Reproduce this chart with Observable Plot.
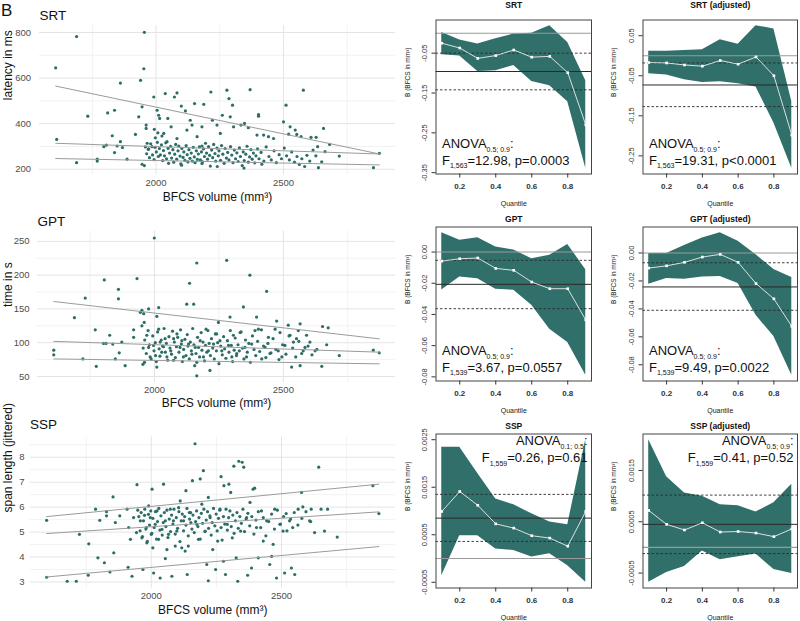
<!DOCTYPE html>
<html><head><meta charset="utf-8">
<script src="https://cdn.jsdelivr.net/npm/d3@7"></script>
<script src="https://cdn.jsdelivr.net/npm/@observablehq/plot@0.6"></script>
<style>
body{margin:0;background:#fff;}
#fig{position:relative;width:800px;height:621px;overflow:hidden;background:#fff;font-family:'Liberation Sans', Arial, Helvetica, sans-serif;}
#fig div.pn{position:absolute;}
#fig svg{background:transparent !important;}
#fig svg text, #fig svg tspan{font-family:'Liberation Sans', Arial, Helvetica, sans-serif;}
</style></head><body><div id="fig"></div>
<script>
// ---------------- DATA ----------------
const volMajor = [2000, 2500];
const volMinor = [1750, 2250, 2750];
const quant = [0.1, 0.2, 0.3, 0.4, 0.5, 0.6, 0.7, 0.8, 0.9];

// SRT scatter: [BFCS volume, latency ms]
const srtPts = [
[1606,645],[1610,331],[1688,782],[1688,229],[1732,433],[1769,244],[1769,236],[1795,299],[1805,306],[1810,447],[1837,459],[1828,347],[1837,273],[1847,302],[1860,578],[1860,321],[1868,295],[1886,244],[1919,353],[1932,430],[1939,590],[1952,641],[1954,801],[1945,474],[1945,222],[1954,216],[1961,394],[1961,379],[1965,314],[1971,289],[1984,299],[1991,517],[1993,375],[1997,338],[2004,459],[2010,437],[2014,423],[2007,360],[2023,346],[2030,357],[2036,532],[2046,423],[2043,321],[2059,386],[2072,517],[2082,535],[2082,335],[2099,477],[2115,456],[2121,372],[2134,415],[2141,394],[2151,488],[2161,343],[2180,386],[2180,302],[2187,485],[2215,539],[2221,415],[2239,394],[2252,357],[2260,437],[2278,547],[2286,510],[2291,430],[2300,481],[2304,386],[2333,394],[2347,401],[2369,549],[2362,382],[2396,350],[2402,440],[2402,433],[2422,350],[2441,343],[2461,335],[2500,408],[2510,481],[2520,354],[2526,386],[2546,372],[2552,353],[2578,547],[2569,343],[2608,340],[2628,340],[2657,379],[2681,309],[2634,299],[2663,277],[2719,258],[2650,233],[2637,207],[2853,207],[2876,270],
[1958,298],[1963,268],[1969,287],[1974,251],[1979,312],[1986,263],[1992,242],[1996,296],[2001,276],[2005,318],[2009,256],[2013,291],[2017,263],[2021,307],[2026,238],[2029,282],[2033,259],[2038,316],[2041,246],[2047,292],[2049,226],[2053,271],[2057,301],[2061,249],[2066,286],[2069,231],[2073,266],[2077,309],[2081,244],[2086,281],[2089,302],[2094,258],[2097,224],[2101,291],[2106,252],[2109,276],[2113,239],[2118,304],[2122,264],[2125,232],[2129,286],[2133,248],[2138,271],[2142,236],[2146,296],[2150,254],[2153,229],[2158,281],[2162,243],[2166,267],[2170,298],[2174,241],[2178,276],[2182,232],[2186,289],[2190,256],[2194,314],[2198,271],[2202,244],[2206,299],[2210,261],[2213,214],[2218,284],[2222,251],[2226,309],[2231,269],[2234,236],[2239,293],[2244,259],[2247,281],[2253,239],[2257,304],[2262,266],[2267,226],[2271,291],[2276,249],[2281,274],[2286,241],[2292,299],[2297,262],[2302,229],[2307,284],[2312,246],[2317,272],[2322,234],[2327,294],[2331,256],[2338,216],[2342,276],[2346,238],[2352,266],[2357,301],[2362,231],[2367,254],[2372,286],[2377,244],[2382,271],[2387,228],[2392,259],[2398,289],[2404,246],[2412,274],[2423,236],[2432,298],[2443,256],[2452,241],[2463,281],[2472,229],[2483,264],[2492,246],[2503,293],[2512,259],[2523,241],[2532,276],[2543,231],[2553,256],[2562,221],[2572,246],[2583,212],[2592,261],[2603,236],[2616,284],[2627,259],[2345,205],[2415,222],[2240,212],[2100,218],[2180,225]
];
// fitted quantile lines (value at min and max volume)
const srtLines = [
  {q: 0.1, x: [1606, 2876], y: [247, 219]},
  {q: 0.5, x: [1606, 2876], y: [314, 267]},
  {q: 0.9, x: [1606, 2876], y: [565, 267]}
];
const srtYMajor = [200, 400, 600, 800];
const srtYMinor = [300, 500, 700];

// GPT scatter: [BFCS volume, time s]
const gptPts = [
[1609,89],[1609,82],[1689,137],[1731,166],[1722,76],[1770,119],[1774,65],[1802,99],[1805,193],[1812,99],[1826,111],[1838,98],[1848,76],[1860,179],[1860,165],[1863,85],[1873,101],[1886,66],[1919,119],[1919,108],[1932,195],[1945,145],[1951,125],[1958,143],[1951,148],[1960,130],[1970,111],[1977,150],[1955,68],[1961,71],[1977,93],[1983,79],[1999,255],[1996,96],[2004,81],[2009,139],[2016,152],[2016,120],[2022,101],[2028,86],[2035,94],[2009,64],[2041,106],[2048,79],[2063,88],[2074,106],[2074,74],[2087,113],[2099,93],[2106,103],[2112,79],[2125,157],[2136,188],[2132,98],[2145,83],[2152,157],[2158,93],[2164,218],[2164,71],[2164,51],[2177,103],[2190,79],[2200,120],[2209,88],[2215,59],[2229,98],[2241,113],[2248,130],[2254,103],[2261,88],[2280,222],[2287,96],[2293,138],[2300,79],[2306,111],[2319,84],[2332,115],[2345,153],[2351,93],[2357,79],[2370,200],[2377,98],[2390,118],[2396,138],[2403,120],[2416,76],[2429,93],[2435,176],[2442,108],[2448,84],[2468,120],[2474,132],[2480,88],[2487,115],[2494,79],[2506,96],[2519,126],[2526,111],[2532,64],[2539,101],[2551,106],[2558,118],[2565,128],[2571,84],[2565,66],[2584,93],[2590,111],[2603,101],[2623,88],[2652,124],[2649,65],[2674,122],[2668,97],[2717,81],[2849,89],[2872,85],
[1956,92],[1962,104],[1968,84],[1975,118],[1980,97],[1987,76],[1993,110],[1998,88],[2003,100],[2007,72],[2012,116],[2018,91],[2021,80],[2026,104],[2031,95],[2037,121],[2042,86],[2046,99],[2051,74],[2056,109],[2060,92],[2066,83],[2070,117],[2077,101],[2081,78],[2085,94],[2090,108],[2095,86],[2101,119],[2104,98],[2108,72],[2113,90],[2118,105],[2122,81],[2127,112],[2130,95],[2135,76],[2139,101],[2143,88],[2148,121],[2153,97],[2156,66],[2161,84],[2167,108],[2171,93],[2175,79],[2181,115],[2184,89],[2188,101],[2194,73],[2198,96],[2203,86],[2207,118],[2212,99],[2217,81],[2221,106],[2226,92],[2232,76],[2236,113],[2240,88],[2245,100],[2250,69],[2257,95],[2263,82],[2268,109],[2272,91],[2277,77],[2283,103],[2289,86],[2294,118],[2298,96],[2303,72],[2309,89],[2313,107],[2318,81],[2324,97],[2329,88],[2336,116],[2341,92],[2347,76],[2353,104],[2360,86],[2366,99],[2372,71],[2380,110],[2386,90],[2393,81],[2400,102],[2408,87],[2415,119],[2423,95],[2432,78],[2440,99],[2452,85],[2460,106],[2471,90],[2483,75],[2497,97],[2510,83],[2522,110],[2536,92],[2548,79],[2560,102],[2577,88],[2596,95],[2611,82],[2630,90]
];
const gptLines = [
  {q: 0.1, x: [1609, 2872], y: [76, 68.7]},
  {q: 0.5, x: [1609, 2872], y: [102, 86]},
  {q: 0.9, x: [1609, 2872], y: [161, 105.7]}
];
const gptYMajor = [50, 100, 150, 200, 250];
const gptYMinor = [75, 125, 175, 225];

// SSP scatter: [BFCS volume, span length (jittered)]
const sspPts = [
[1598,5.47],[1598,3.19],[1677,3.03],[1712,3.03],[1724,4.91],[1760,4.53],[1758,3.27],[1786,5.92],[1795,3.97],[1802,5.47],[1820,3.77],[1828,5.82],[1828,5.65],[1841,3.40],[1853,6.41],[1856,4.17],[1862,5.38],[1879,5.65],[1907,5.92],[1913,5.18],[1911,3.59],[1920,4.71],[1926,3.23],[1932,5.58],[1945,6.90],[1943,4.98],[1948,5.88],[1958,5.45],[1964,4.77],[1968,3.50],[1974,5.67],[1981,5.18],[1983,4.57],[1990,6.05],[1996,5.58],[2000,4.91],[2003,6.72],[2006,4.37],[2009,3.36],[2015,5.31],[2022,5.85],[2028,4.71],[2034,3.16],[2041,5.11],[2047,6.92],[2054,5.45],[2054,3.94],[2060,4.30],[2066,4.91],[2073,5.92],[2079,3.23],[2085,5.45],[2092,4.44],[2098,5.04],[2105,5.98],[2111,6.25],[2117,4.37],[2124,5.45],[2130,4.24],[2133,6.66],[2138,3.30],[2142,4.44],[2146,5.78],[2152,5.38],[2158,7.06],[2168,8.54],[2175,5.31],[2181,4.71],[2188,7.13],[2194,6.12],[2200,7.46],[2207,5.04],[2213,3.70],[2219,6.39],[2219,3.05],[2226,5.58],[2236,4.30],[2247,3.50],[2255,4.64],[2264,5.92],[2268,7.22],[2277,3.83],[2279,6.86],[2285,3.30],[2292,5.31],[2298,6.92],[2305,6.59],[2311,4.77],[2317,7.64],[2326,3.97],[2332,3.03],[2336,7.84],[2343,5.04],[2349,7.80],[2355,7.60],[2366,5.58],[2370,3.27],[2379,6.19],[2385,3.56],[2391,6.72],[2397,6.76],[2404,5.18],[2411,3.97],[2423,5.85],[2430,4.64],[2443,5.45],[2455,3.70],[2462,4.03],[2468,4.51],[2474,5.92],[2481,3.16],[2494,5.31],[2506,5.04],[2512,3.36],[2518,5.74],[2531,5.45],[2538,3.56],[2543,5.18],[2551,3.30],[2564,5.92],[2577,6.59],[2582,6.01],[2608,5.45],[2614,5.92],[2627,4.98],[2643,7.60],[2652,5.92],[2665,5.04],[2677,5.92],[2714,4.80],[2851,6.86],[2874,5.74],
[1952,5.62],[1957,5.05],[1961,5.78],[1966,4.82],[1970,5.45],[1975,5.92],[1979,5.12],[1985,4.63],[1989,5.71],[1993,5.28],[1998,5.85],[2002,4.95],[2006,5.55],[2011,5.18],[2016,5.82],[2020,4.72],[2024,5.42],[2029,5.95],[2033,5.08],[2037,5.65],[2042,4.88],[2046,5.38],[2050,5.78],[2056,5.22],[2060,5.88],[2064,4.78],[2069,5.52],[2074,5.02],[2078,5.68],[2083,5.32],[2087,5.92],[2092,4.92],[2096,5.58],[2101,5.15],[2106,5.82],[2110,4.62],[2115,5.45],[2119,5.72],[2124,5.05],[2128,5.62],[2133,5.28],[2137,5.95],[2142,4.85],[2147,5.52],[2151,5.78],[2156,5.12],[2160,5.68],[2165,4.98],[2170,5.42],[2174,5.85],[2179,5.22],[2183,5.58],[2188,4.72],[2192,5.75],[2197,5.35],[2202,5.92],[2206,5.02],[2211,5.48],[2216,5.82],[2220,5.15],[2225,5.65],[2230,4.88],[2234,5.38],[2239,5.95],[2244,5.25],[2249,5.72],[2253,5.05],[2258,5.55],[2263,5.88],[2268,5.18],[2272,4.68],[2277,5.62],[2282,5.32],[2287,5.92],[2292,5.08],[2297,5.58],[2302,5.85],[2307,5.22],[2313,5.68],[2318,4.95],[2323,5.45],[2329,5.78],[2334,5.15],[2340,5.62],[2346,5.35],[2352,5.92],[2358,5.02],[2364,5.52],[2371,5.75],[2378,5.25],[2386,5.62],[2394,4.92],[2402,5.48],[2411,5.82],[2420,5.18],[2430,5.58],[2440,4.85],[2451,5.42],[2462,5.72],[2473,5.12],[2484,5.88],[2496,5.32],[2508,5.62],[2521,5.05],[2535,5.52],[2549,5.78],[2563,5.28],[2578,5.55],[2594,5.82],[2612,5.42]
];
const sspLines = [
  {q: 0.1, x: [1598, 2874], y: [3.20, 4.42]},
  {q: 0.5, x: [1598, 2874], y: [4.94, 5.81]},
  {q: 0.9, x: [1598, 2874], y: [5.62, 6.92]}
];
const sspYMajor = [3, 4, 5, 6, 7, 8];
const sspYMinor = [3.5, 4.5, 5.5, 6.5, 7.5, 8.5];

// Quantile regression coefficients (B) with confidence band, and OLS [estimate, upper, lower]
const srtB   = [-0.025,-0.037,-0.063,-0.056,-0.042,-0.060,-0.058,-0.099,-0.230];
const srtHi  = [0.002,-0.017,-0.027,-0.014,-0.002,0.000,0.019,-0.023,-0.119];
const srtLo  = [-0.054,-0.057,-0.096,-0.094,-0.081,-0.121,-0.132,-0.172,-0.339];
const srtOls = [-0.096,-0.050,-0.142];

const srtAdjB   = [-0.017,-0.018,-0.023,-0.026,-0.012,-0.021,-0.003,-0.050,-0.198];
const srtAdjHi  = [0.011,0.011,0.013,0.015,0.040,0.029,0.075,0.067,-0.114];
const srtAdjLo  = [-0.045,-0.048,-0.060,-0.067,-0.065,-0.070,-0.078,-0.168,-0.281];
const srtAdjOls = [-0.073,-0.018,-0.127];

const gptB   = [-0.0058,-0.0043,-0.0038,-0.0105,-0.0117,-0.0192,-0.0235,-0.0235,-0.0435];
const gptHi  = [0.0124,0.0075,0.0092,0.0032,0.0013,-0.0043,-0.0021,0.0049,-0.0113];
const gptLo  = [-0.0243,-0.0160,-0.0171,-0.0239,-0.0245,-0.0341,-0.0495,-0.0580,-0.0790];
const gptOls = [-0.0207,-0.0053,-0.0363];

const gptAdjB   = [-0.0108,-0.0092,-0.0067,-0.0029,-0.0010,-0.0067,-0.0219,-0.0328,-0.0525];
const gptAdjHi  = [-0.0003,-0.0003,0.0053,0.0108,0.0145,0.0084,-0.0012,-0.0118,-0.0176];
const gptAdjLo  = [-0.0224,-0.0183,-0.0188,-0.0171,-0.0169,-0.0219,-0.0446,-0.0598,-0.0875];
const gptAdjOls = [-0.0243,-0.0070,-0.0410];

const sspB   = [0.00099,0.00141,0.00112,0.00073,0.00064,0.00048,0.00043,0.00026,0.00099];
const sspHi  = [0.00234,0.00234,0.00179,0.00125,0.00113,0.00094,0.00077,0.00071,0.00250];
const sspLo  = [-0.00036,0.00048,0.00048,0.00020,0.00017,0.00003,0.00010,-0.00015,-0.00050];
const sspOls = [0.00085,0.00135,0.00036];

const sspAdjB   = [0.00072,0.00045,0.00034,0.00048,0.00030,0.00031,0.00028,0.00021,0.00036];
const sspAdjHi  = [0.00210,0.00138,0.00106,0.00100,0.00083,0.00081,0.00069,0.00087,0.00123];
const sspAdjLo  = [-0.00068,-0.00049,-0.00037,-0.00007,-0.00024,-0.00018,-0.00013,-0.00043,-0.00051];
const sspAdjOls = [0.00045,0.00102,-0.00012];

// tick values and labels for coefficient panels
const srtTicks = [-0.35,-0.25,-0.15,-0.05];            const srtTickLab = ["-0.35","-0.25","-0.15","-0.05"];
const srtAdjTicks = [-0.25,-0.15,-0.05,0.05];          const srtAdjTickLab = ["-0.25","-0.15","-0.05","0.05"];
const gptTicks = [-0.08,-0.06,-0.04,-0.02,0];          const gptTickLab = ["-0.08","-0.06","-0.04","-0.02","0.00"];
const sspTicks = [-0.0005,0.0005,0.0015,0.0025];       const sspTickLab = ["-0.0005","0.0005","0.0015","0.0025"];
const sspAdjTicks = [-0.0005,0.0005,0.0015];           const sspAdjTickLab = ["-0.0005","0.0005","0.0015"];
const qTicks = [0.2, 0.4, 0.6, 0.8];

// ---------------- DRAWING ----------------
const FONT = "'Liberation Sans', Arial, Helvetica, sans-serif";
const SVGSTYLE = `font-family: ${FONT}; background: transparent; overflow: visible;`;
const DOT = "#2b6e68";
const RIB = "#316f6a";
const fig = document.getElementById("fig");

function place(node, left, top, w, h) {
  const d = document.createElement("div");
  d.className = "pn";
  d.style.left = left + "px"; d.style.top = top + "px";
  d.style.width = w + "px"; d.style.height = h + "px";
  d.appendChild(node); fig.appendChild(d);
}
function pad(ext, f) { const r = ext[1] - ext[0]; return [ext[0] - r * f, ext[1] + r * f]; }

function applySub(svg, subSize, shift) {
  d3.select(svg).selectAll("text").each(function () {
    const s = this.textContent;
    if (!s.includes("_{")) return;
    const parts = s.split(/(_\{[^}]*\})/).filter(p => p.length);
    const el = d3.select(this);
    el.text(null);
    let down = false;
    for (const p of parts) {
      if (p.startsWith("_{")) {
        el.append("tspan").attr("font-size", subSize).attr("dy", shift).text(p.slice(2, -1));
        down = true;
      } else {
        const t = el.append("tspan").text(p);
        if (down) { t.attr("dy", -shift); down = false; }
      }
    }
  });
}

function scatterPanel(o) {
  const xd = pad(d3.extent(o.pts, d => d[0]), 0.05);
  const yd = pad(d3.extent(o.pts, d => d[1]), 0.05);
  const lineRows = o.lines.flatMap(l => l.x.map((x, i) => ({q: l.q, x, y: l.y[i]})));
  const marks = [
    Plot.ruleX(volMinor, {stroke: "#efefef", strokeWidth: 0.8}),
    Plot.ruleY(o.yMinor, {stroke: "#efefef", strokeWidth: 0.8}),
    Plot.ruleX(volMajor, {stroke: "#e4e4e4", strokeWidth: 1}),
    Plot.ruleY(o.yMajor, {stroke: "#e4e4e4", strokeWidth: 1}),
    Plot.dot(o.pts, {x: d => d[0], y: d => d[1], r: 1.6, fill: DOT, stroke: null}),
    Plot.line(lineRows, {x: "x", y: "y", z: "q", stroke: "#9b9b9b", strokeWidth: 1}),
    Plot.axisX({ticks: volMajor, tickSize: 0, tickPadding: o.xPad, fontSize: 9.5, tickFormat: d => String(d), label: null, color: "#4d4d4d"}),
    Plot.axisY({ticks: o.yMajor, tickSize: 0, tickPadding: o.yPad, fontSize: 9.5, tickFormat: d => String(d), label: null, color: "#4d4d4d"}),
    Plot.text(["BFCS volume (mm³)"], {frameAnchor: "bottom", dy: o.xLabOff, lineAnchor: "bottom", fontSize: 12, fill: "#111"}),
    Plot.text([o.yLabel], {frameAnchor: "left", dx: 3 - o.mLeft, rotate: -90, lineAnchor: "top", fontSize: 12, fill: "#111"}),
    Plot.text([o.title], {frameAnchor: "top-left", dy: o.titleDy, textAnchor: "start", lineAnchor: "bottom", fontSize: 13.5, fill: "#111"})
  ];
  if (o.letter) marks.push(Plot.text([o.letter], {frameAnchor: "top-left", dx: 0.5 - o.mLeft, dy: 15 - o.mTop, textAnchor: "start", lineAnchor: "bottom", fontSize: 17, fill: "#111"}));
  const p = Plot.plot({
    width: 400, height: o.height,
    marginTop: o.mTop, marginBottom: o.mBottom, marginLeft: o.mLeft, marginRight: 5,
    style: SVGSTYLE,
    x: {domain: xd}, y: {domain: yd},
    marks
  });
  place(p, 0, o.top, 400, o.height);
}

function coefPanel(o) {
  const rows = quant.map((q, i) => ({q, b: o.b[i], lo: o.lo[i], hi: o.hi[i]}));
  const xd = pad(d3.extent(quant), 0.04);
  const yd = pad(d3.extent([...o.lo, ...o.hi, ...o.b, ...o.ols]), 0.04);
  const H = 207, mTop = 19.5, mBottom = 33.5;
  const bl = o.anovaPos === "bl";
  const FS = 13;
  const anovaMarks = bl ? [
    Plot.text([o.anova[0]], {frameAnchor: "bottom-left", dx: 6, dy: -26, textAnchor: "start", lineAnchor: "bottom", fontSize: FS, fill: "#111"}),
    Plot.text([o.anova[1]], {frameAnchor: "bottom-left", dx: 6, dy: -9.5, textAnchor: "start", lineAnchor: "bottom", fontSize: FS, fill: "#111"})
  ] : [
    Plot.text([o.anova[0]], {frameAnchor: "top-right", dx: -4, dy: 11, textAnchor: "end", lineAnchor: "bottom", fontSize: FS, fill: "#111"}),
    Plot.text([o.anova[1]], {frameAnchor: "top-right", dx: -4, dy: 28, textAnchor: "end", lineAnchor: "bottom", fontSize: FS, fill: "#111"})
  ];
  const p = Plot.plot({
    width: 200, height: H,
    marginTop: mTop, marginBottom: mBottom, marginLeft: o.mLeft, marginRight: o.mRight,
    style: SVGSTYLE,
    x: {domain: xd}, y: {domain: yd},
    marks: [
      Plot.areaY(rows, {x: "q", y1: "lo", y2: "hi", fill: RIB}),
      Plot.ruleY([0], {stroke: "#9a9a9a", strokeWidth: 1.1}),
      Plot.ruleY([o.ols[0]], {stroke: "#2a2a2a", strokeWidth: 1}),
      Plot.ruleY([o.ols[1], o.ols[2]], {stroke: "#2a2a2a", strokeWidth: 0.9, strokeDasharray: "2.5,2"}),
      Plot.line(rows, {x: "q", y: "b", stroke: "#eeeeee", strokeWidth: 0.9}),
      Plot.dot(rows, {x: "q", y: "b", symbol: "square", r: 1.5, fill: "white", stroke: null}),
      ...anovaMarks,
      Plot.frame({stroke: "#444", strokeWidth: 1}),
      Plot.axisX({ticks: qTicks, tickSize: 4, tickPadding: 5, fontSize: 8, fontWeight: "bold", tickFormat: d => d.toFixed(1), label: null, color: "#333"}),
      Plot.axisY({ticks: o.ticks, tickSize: 4, tickFormat: () => "", label: null, color: "#333"}),
      Plot.text(o.ticks, {y: d => d, text: (d, i) => o.tickLab[i], frameAnchor: "left", dx: -9, rotate: -90, textAnchor: "middle", lineAnchor: "bottom", fontSize: 7.5, fill: "#333"}),
      Plot.text(["B (BFCS in mm³)"], {frameAnchor: "left", dx: o.yLabDx, rotate: -90, lineAnchor: "middle", fontSize: 6.5, fill: "#222"}),
      Plot.text(["Quantile"], {frameAnchor: "bottom", dy: 32, lineAnchor: "bottom", fontSize: 7, fill: "#222"}),
      Plot.text([o.title], {frameAnchor: "top", dy: o.titleDy, lineAnchor: "bottom", fontSize: 8.5, fontWeight: "bold", fill: "#111"})
    ]
  });
  applySub(p, 7, 3.5);
  place(p, o.left, o.top, 200, H);
}

// Left column: scatter plots
scatterPanel({pts: srtPts, lines: srtLines, yMajor: srtYMajor, yMinor: srtYMinor, yLabel: "latency in ms", title: "SRT", letter: "B",
  top: 0, height: 207, mTop: 25, mBottom: 32.6, mLeft: 39, xPad: 4, yPad: 8.5, xLabOff: 25.6, titleDy: -6});
scatterPanel({pts: gptPts, lines: gptLines, yMajor: gptYMajor, yMinor: gptYMinor, yLabel: "time in s", title: "GPT",
  top: 207, height: 207, mTop: 23.6, mBottom: 31.8, mLeft: 37, xPad: 4, yPad: 8, xLabOff: 24.5, titleDy: -5.6});
scatterPanel({pts: sspPts, lines: sspLines, yMajor: sspYMajor, yMinor: sspYMinor, yLabel: "span length (jittered)", title: "SSP",
  top: 414, height: 207, mTop: 22.4, mBottom: 33.4, mLeft: 29.5, xPad: 4, yPad: 5.5, xLabOff: 26, titleDy: -8.4});

// Middle and right columns: coefficient plots
const midCol = {left: 400, mLeft: 35.5, mRight: 9, yLabDx: -28.5};
const rightCol = {left: 600, mLeft: 42.5, mRight: 3, yLabDx: -29.5};
coefPanel({...midCol, top: 0, title: "SRT", titleDy: -12, b: srtB, lo: srtLo, hi: srtHi, ols: srtOls, ticks: srtTicks, tickLab: srtTickLab,
  anovaPos: "bl", anova: ["ANOVA_{0.5; 0.9}:", "F_{1,563}=12.98, p=0.0003"]});
coefPanel({...rightCol, top: 0, title: "SRT (adjusted)", titleDy: -12, b: srtAdjB, lo: srtAdjLo, hi: srtAdjHi, ols: srtAdjOls, ticks: srtAdjTicks, tickLab: srtAdjTickLab,
  anovaPos: "bl", anova: ["ANOVA_{0.5; 0.9}:", "F_{1,563}=19.31, p<0.0001"]});
coefPanel({...midCol, top: 207, title: "GPT", titleDy: -5, b: gptB, lo: gptLo, hi: gptHi, ols: gptOls, ticks: gptTicks, tickLab: gptTickLab,
  anovaPos: "bl", anova: ["ANOVA_{0.5; 0.9}:", "F_{1,539}=3.67, p=0.0557"]});
coefPanel({...rightCol, top: 207, title: "GPT (adjusted)", titleDy: -5, b: gptAdjB, lo: gptAdjLo, hi: gptAdjHi, ols: gptAdjOls, ticks: gptTicks, tickLab: gptTickLab,
  anovaPos: "bl", anova: ["ANOVA_{0.5; 0.9}:", "F_{1,539}=9.49, p=0.0022"]});
coefPanel({...midCol, top: 414, title: "SSP", titleDy: -5, b: sspB, lo: sspLo, hi: sspHi, ols: sspOls, ticks: sspTicks, tickLab: sspTickLab,
  anovaPos: "tr", anova: ["ANOVA_{0.1; 0.5}:", "F_{1,559}=0.26, p=0.61"]});
coefPanel({...rightCol, top: 414, title: "SSP (adjusted)", titleDy: -5, b: sspAdjB, lo: sspAdjLo, hi: sspAdjHi, ols: sspAdjOls, ticks: sspAdjTicks, tickLab: sspAdjTickLab,
  anovaPos: "tr", anova: ["ANOVA_{0.5; 0.9}:", "F_{1,559}=0.41, p=0.52"]});
</script></body></html>
